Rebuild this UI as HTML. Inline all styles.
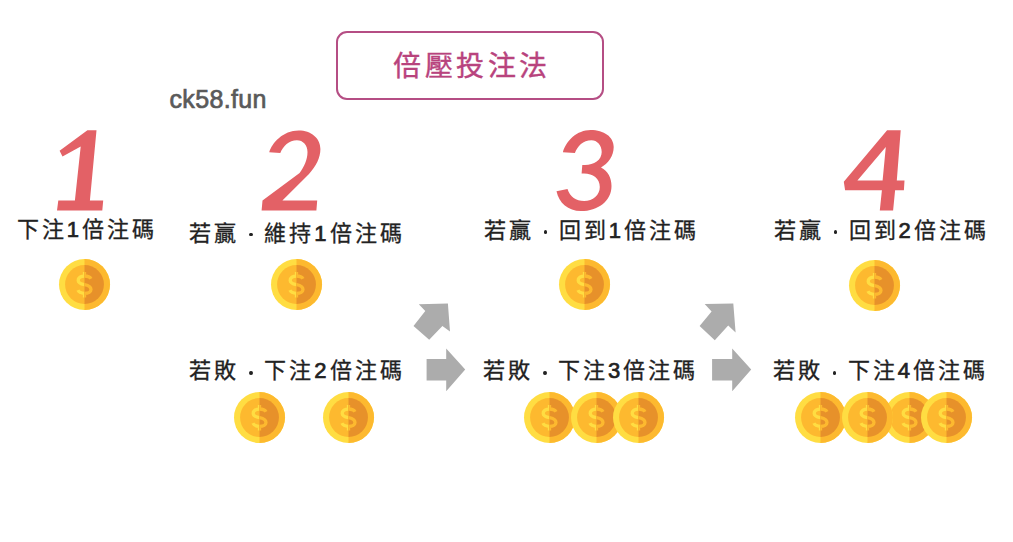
<!DOCTYPE html>
<html lang="zh-TW">
<head>
<meta charset="utf-8">
<style>
html,body{margin:0;padding:0;background:#fff;}
body{width:1013px;height:542px;position:relative;overflow:hidden;font-family:"Liberation Sans",sans-serif;}
.a{position:absolute;white-space:nowrap;line-height:1.2;}
.lbl{font-size:22px;letter-spacing:3px;color:#222;-webkit-text-stroke:0.3px #222;}
.dot{position:absolute;width:3.6px;height:3.8px;border-radius:50%;background:#222;}
.big{font-size:116px;font-weight:bold;font-style:italic;color:#e05e63;transform-origin:0 0;line-height:1.2;}
.title{position:absolute;left:336px;top:31px;width:264px;height:65px;border:2.5px solid #b54e84;border-radius:11px;}
.ttxt{font-size:28px;letter-spacing:3.6px;color:#b8437d;-webkit-text-stroke:0.4px #b8437d;}
.brand{font-size:25px;color:#5a5a5a;-webkit-text-stroke:0.7px #5a5a5a;}
svg.c{position:absolute;width:51px;height:51px;overflow:visible;}
svg.arr{position:absolute;left:0;top:0;}
.lbl b{font-weight:normal;-webkit-text-stroke:0.7px #222;}
</style>
</head>
<body>
<div class="title"></div>
<div class="a ttxt" style="left:393px;top:50px;">倍壓投注法</div>
<div class="a brand" style="left:169.5px;top:84px;letter-spacing:0.35px;">ck58.fun</div>

<svg class="arr" width="1013" height="542" viewBox="0 0 1013 542">
<g fill="#e36166">
<polygon points="96.5,130.3 87.4,130.3 59.6,150.7 62.5,156.6 80.7,146.6 74.9,200.6 58.3,200.6 57,210.5 102.3,210.5 103.2,200.6 89.9,200.6"/>
<path d="M269.2,152.2 C272,143 283,130.5 298.7,130.5 C311,130.5 320.4,138 320.4,149 C320.4,158 316,166 309,174 L282.4,200.5 L317.2,200.5 L316.4,210.4 L261.6,210.4 L262.5,200.5 L299.6,172.9 C304,167 307.5,160 307.5,152 C307.5,145 303,140.2 296.9,140.2 C289,140.2 283,146 280.3,153.1 Z"/>
<path d="M562.9,152.2 C566,141 577,130.1 590.6,130.1 C604,130.1 613.7,137 613.7,147 C613.7,156 608,163.5 601,167.5 C608,171 611.5,178 611.5,186 C611.5,201 598,211.1 581,211.1 C568,211.1 559,203 556.5,191.3 L567.5,189 C570,197 576,201 584.1,201 C593,201 599.8,195 599.8,187 C599.8,178.5 593,173.5 584,173.5 L581.6,173.5 L582.3,165 L585,165 C594,165 601.7,160 601.7,152 C601.7,145 597,140.2 591.5,140.2 C583,140.2 577.5,146 574.9,153.1 Z"/>
<path fill-rule="evenodd" d="M887.1,130.2 L900.7,130.2 L896.8,180.6 L904.5,180.6 L903.9,190.2 L895.1,190.2 L893.1,210.5 L879.8,210.5 L881.9,190.2 L845.1,190.2 L843.8,181.8 Z M857.4,180.6 L882.6,180.6 L885.8,147 Z"/>
</g>
</svg>

<div class="a lbl" style="left:16.7px;top:216.9px;">下注<b>1</b>倍注碼</div>
<div class="a lbl" style="left:189.3px;top:221.2px;">若贏<span style="display:inline-block;width:25px"></span>維持<b>1</b>倍注碼</div>
<div class="dot" style="left:249.3px;top:232.7px;"></div>
<div class="a lbl" style="left:483.7px;top:218.3px;">若贏<span style="display:inline-block;width:25px"></span>回到<b>1</b>倍注碼</div>
<div class="dot" style="left:543.7px;top:229.8px;"></div>
<div class="a lbl" style="left:773.5px;top:218.3px;">若贏<span style="display:inline-block;width:25px"></span>回到<b>2</b>倍注碼</div>
<div class="dot" style="left:833.5px;top:229.8px;"></div>

<div class="a lbl" style="left:189.3px;top:358.4px;">若敗<span style="display:inline-block;width:25px"></span>下注<b>2</b>倍注碼</div>
<div class="dot" style="left:249.3px;top:371.3px;"></div>
<div class="a lbl" style="left:483px;top:358.4px;">若敗<span style="display:inline-block;width:25px"></span>下注<b>3</b>倍注碼</div>
<div class="dot" style="left:543px;top:371.3px;"></div>
<div class="a lbl" style="left:772.7px;top:358.4px;">若敗<span style="display:inline-block;width:25px"></span>下注<b>4</b>倍注碼</div>
<div class="dot" style="left:832.7px;top:371.3px;"></div>

<svg width="0" height="0" style="position:absolute">
<defs>
<clipPath id="rh"><rect x="26" y="-2" width="30" height="56"/></clipPath>
<g id="coin">
<circle cx="26" cy="26" r="26" fill="#ffdd42"/>
<circle cx="26" cy="26" r="19.8" fill="#fdb92f"/>
<path d="M32.6,20.2 C31.6,18.3 29.2,17.3 26,17.3 C22.2,17.3 19.6,19.2 19.6,21.8 C19.6,24.6 22.4,25.4 26,26.2 C29.8,27 32.6,28.2 32.6,31 C32.6,33.3 30,35 26,35 C22.8,35 20.2,33.8 19.3,31.8 M26,13.2 V17.5 M26,34.8 V39.2" fill="none" stroke="#ffdd42" stroke-width="3.4"/>
<g clip-path="url(#rh)">
<circle cx="26" cy="26" r="26" fill="#fdb92f"/>
<circle cx="26" cy="26" r="19.8" fill="#e7912a"/>
<path d="M32.6,20.2 C31.6,18.3 29.2,17.3 26,17.3 C22.2,17.3 19.6,19.2 19.6,21.8 C19.6,24.6 22.4,25.4 26,26.2 C29.8,27 32.6,28.2 32.6,31 C32.6,33.3 30,35 26,35 C22.8,35 20.2,33.8 19.3,31.8 M26,13.2 V17.5 M26,34.8 V39.2" fill="none" stroke="#fdb92f" stroke-width="3.4"/>
</g>
</g>
</defs>
</svg>





<svg class="c" style="left:59.0px;top:258.5px;" viewBox="0 0 52 52"><use href="#coin"/></svg>
<svg class="c" style="left:271.3px;top:259.0px;" viewBox="0 0 52 52"><use href="#coin"/></svg>
<svg class="c" style="left:559.3px;top:259.0px;" viewBox="0 0 52 52"><use href="#coin"/></svg>
<svg class="c" style="left:849.3px;top:259.5px;" viewBox="0 0 52 52"><use href="#coin"/></svg>
<svg class="c" style="left:234.3px;top:392.3px;" viewBox="0 0 52 52"><use href="#coin"/></svg>
<svg class="c" style="left:322.7px;top:392.3px;" viewBox="0 0 52 52"><use href="#coin"/></svg>
<svg class="c" style="left:523.5px;top:392.0px;" viewBox="0 0 52 52"><use href="#coin"/></svg>
<svg class="c" style="left:570.9px;top:392.0px;" viewBox="0 0 52 52"><use href="#coin"/></svg>
<svg class="c" style="left:612.5px;top:392.0px;" viewBox="0 0 52 52"><use href="#coin"/></svg>
<svg class="c" style="left:883.5px;top:392.0px;" viewBox="0 0 52 52"><use href="#coin"/></svg>
<svg class="c" style="left:795.0px;top:392.0px;" viewBox="0 0 52 52"><use href="#coin"/></svg>
<svg class="c" style="left:841.5px;top:392.0px;" viewBox="0 0 52 52"><use href="#coin"/></svg>
<svg class="c" style="left:920.5px;top:392.0px;" viewBox="0 0 52 52"><use href="#coin"/></svg>
<svg class="arr" width="1013" height="542" viewBox="0 0 1013 542">
<g fill="#acacac">
<polygon points="418.8,304.2 447.9,303.5 450,331.4 442.4,325.9 429.2,339.7 413.5,325.9 425.3,311.1"/>
<polygon points="426.6,359.1 446.2,359.1 446.2,348.6 465.2,369.6 446.2,391.2 446.2,380.6 426.6,380.6"/>
<polygon points="704.7,304 733.3,303.5 735.6,332.4 728.2,325.4 714.8,340.2 699.6,325.9 711.6,311.4"/>
<polygon points="712.1,359.1 732.2,359.1 732.2,348.6 751.2,369.6 732.2,391.2 732.2,380.6 712.1,380.6"/>
</g>
</svg>
</body>
</html>
